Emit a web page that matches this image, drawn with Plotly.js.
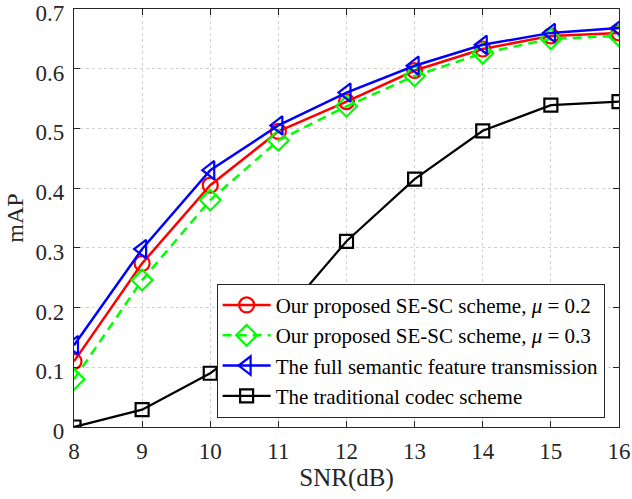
<!DOCTYPE html>
<html>
<head>
<meta charset="utf-8">
<script src="https://cdn.plot.ly/plotly-3.0.1.min.js"></script>
<style>html,body{margin:0;padding:0;background:#fff;}#chart{width:632px;height:499px;}</style>
</head>
<body>
<div id="chart"></div>
<script>
const snr = [8, 9, 10, 11, 12, 13, 14, 15, 16];
const seMu02 = [0.110, 0.274, 0.405, 0.495, 0.545, 0.597, 0.633, 0.655, 0.660];
const seMu03 = [0.080, 0.246, 0.380, 0.480, 0.537, 0.588, 0.626, 0.650, 0.655];
const fullSemantic = [0.137, 0.298, 0.430, 0.505, 0.560, 0.605, 0.640, 0.660, 0.668];
const traditional = [0.000, 0.029, 0.090, 0.178, 0.311, 0.415, 0.496, 0.539, 0.545];
const names = [
  'Our proposed SE-SC scheme, <i>μ</i> = 0.2',
  'Our proposed SE-SC scheme, <i>μ</i> = 0.3',
  'The full semantic feature transmission',
  'The traditional codec scheme'
];
const yTicks = [0, 0.1, 0.2, 0.3, 0.4, 0.5, 0.6, 0.7];
const yTickText = ['0', '0.1', '0.2', '0.3', '0.4', '0.5', '0.6', '0.7'];

const font = '"Liberation Serif", "Times New Roman", serif';
const traces = [
  {x: snr, y: seMu02, name: names[0], mode: 'lines+markers',
   line: {color: '#ff0000', width: 2.5},
   marker: {symbol: 'circle-open', size: 15, color: '#ff0000', line: {width: 2.2, color: '#ff0000'}}},
  {x: snr, y: seMu03, name: names[1], mode: 'lines+markers',
   line: {color: '#00ff00', width: 2.5, dash: '9px,6px'},
   marker: {symbol: 'diamond-open', size: 16, color: '#00ff00', line: {width: 2.2, color: '#00ff00'}}},
  {x: snr, y: fullSemantic, name: names[2], mode: 'lines+markers',
   line: {color: '#0000ff', width: 2.5},
   marker: {symbol: 'triangle-left-open', size: 16, color: '#0000ff', line: {width: 2.2, color: '#0000ff'}}},
  {x: snr, y: traditional, name: names[3], mode: 'lines+markers',
   line: {color: '#000000', width: 2.2},
   marker: {symbol: 'square-open', size: 13, color: '#000000', line: {width: 2.2, color: '#000000'}}}
];

const layout = {
  width: 632, height: 499,
  margin: {l: 74, r: 13, t: 9, b: 72},
  paper_bgcolor: '#ffffff', plot_bgcolor: '#ffffff',
  font: {family: font, size: 20, color: '#262626'},
  showlegend: true,
  legend: {
    x: 0.2617, y: 0.022, xanchor: 'left', yanchor: 'bottom',
    bgcolor: '#ffffff', bordercolor: '#262626', borderwidth: 1,
    font: {family: font, size: 21, color: '#000000'},
    tracegroupgap: 0, itemwidth: 48
  },
  xaxis: {
    range: [8, 16.0001], dtick: 1, tick0: 8,
    showline: true, linecolor: '#262626', linewidth: 1.2, mirror: 'ticks',
    ticks: 'inside', ticklen: 6, tickcolor: '#262626',
    showgrid: true, gridcolor: '#d0d0d0', griddash: 'dot', gridwidth: 1,
    zeroline: false, ticklabelstandoff: 3, ticklabeloverflow: 'allow',
    tickfont: {family: font, size: 23, color: '#262626'},
    title: {text: 'SNR(dB)', font: {family: font, size: 25, color: '#262626'}, standoff: 5}
  },
  yaxis: {
    range: [0, 0.70001], tickvals: yTicks, ticktext: yTickText,
    showline: true, linecolor: '#262626', linewidth: 1.2, mirror: 'ticks',
    ticks: 'inside', ticklen: 6, tickcolor: '#262626',
    showgrid: true, gridcolor: '#d0d0d0', griddash: 'dot', gridwidth: 1,
    zeroline: false, ticklabelstandoff: 4, ticklabelshift: 4, ticklabeloverflow: 'allow',
    tickfont: {family: font, size: 23, color: '#262626'},
    title: {text: 'mAP', font: {family: font, size: 24, color: '#262626'}, standoff: 5}
  }
};

Plotly.newPlot('chart', traces, layout, {displayModeBar: false, staticPlot: true});
</script>
</body>
</html>
